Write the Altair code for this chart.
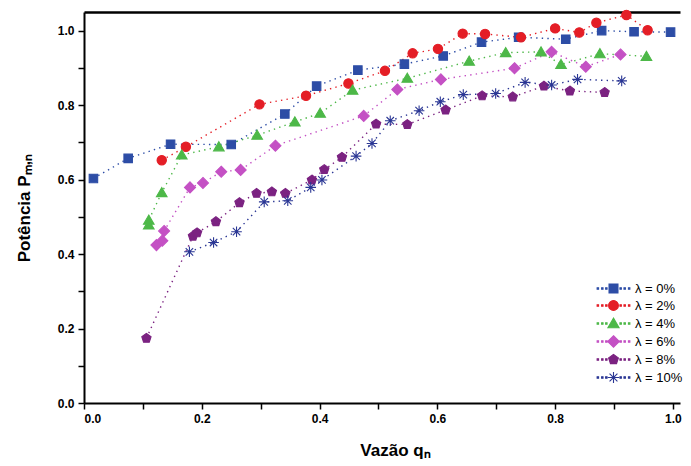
import altair as alt
import pandas as pd

labels = ["λ = 0%", "λ = 2%", "λ = 4%", "λ = 6%", "λ = 8%", "λ = 10%"]
colors = ["#2D4DA6", "#E41E26", "#4DB848", "#C451C4", "#7B2281", "#2A3694"]

q0 = [0.016, 0.075, 0.147, 0.250, 0.341, 0.395, 0.465, 0.544, 0.610, 0.675, 0.738, 0.818, 0.879, 0.934, 0.996]
p0 = [0.603, 0.657, 0.695, 0.694, 0.776, 0.851, 0.894, 0.910, 0.932, 0.969, 0.982, 0.977, 1.000, 0.997, 0.996]

q2 = [0.132, 0.173, 0.298, 0.377, 0.449, 0.511, 0.558, 0.601, 0.643, 0.681, 0.742, 0.800, 0.841, 0.870, 0.921, 0.957]
p2 = [0.652, 0.688, 0.802, 0.825, 0.858, 0.892, 0.939, 0.951, 0.992, 0.991, 0.982, 1.006, 0.995, 1.021, 1.042, 1.001]

q4 = [0.110, 0.110, 0.132, 0.166, 0.229, 0.294, 0.358, 0.401, 0.456, 0.549, 0.654, 0.716, 0.776, 0.810, 0.876, 0.955]
p4 = [0.478, 0.491, 0.565, 0.666, 0.688, 0.719, 0.755, 0.778, 0.840, 0.872, 0.918, 0.941, 0.943, 0.909, 0.938, 0.931]

q6 = [0.123, 0.133, 0.136, 0.180, 0.202, 0.233, 0.266, 0.325, 0.475, 0.532, 0.606, 0.731, 0.794, 0.852, 0.911]
p6 = [0.424, 0.436, 0.462, 0.579, 0.591, 0.621, 0.626, 0.691, 0.771, 0.842, 0.869, 0.899, 0.943, 0.903, 0.936]

q8 = [0.106, 0.185, 0.192, 0.224, 0.264, 0.293, 0.319, 0.342, 0.387, 0.408, 0.438, 0.496, 0.549, 0.614, 0.676, 0.728, 0.781, 0.825, 0.884]
p8 = [0.174, 0.448, 0.457, 0.487, 0.538, 0.563, 0.567, 0.563, 0.599, 0.627, 0.660, 0.749, 0.748, 0.787, 0.825, 0.822, 0.851, 0.838, 0.834]

q10 = [0.179, 0.220, 0.259, 0.306, 0.346, 0.385, 0.404, 0.462, 0.489, 0.520, 0.569, 0.605, 0.644, 0.699, 0.749, 0.794, 0.838, 0.913]
p10 = [0.406, 0.431, 0.460, 0.540, 0.543, 0.579, 0.599, 0.663, 0.697, 0.758, 0.785, 0.809, 0.828, 0.831, 0.861, 0.854, 0.869, 0.865]

tick_values = [0.0, 0.1, 0.2, 0.3, 0.4, 0.5, 0.6, 0.7, 0.8, 0.9, 1.0]

series_q = [q0, q2, q4, q6, q8, q10]
series_p = [p0, p2, p4, p6, p8, p10]
rows = []
for lab, qs, ps in zip(labels, series_q, series_p):
    for q, p in zip(qs, ps):
        rows.append({"series": lab, "q": q, "p": p})
df = pd.DataFrame(rows)

# marker shapes (unit box -1..1)
square = "M-1,-1H1V1H-1Z"
circle = "M1.1,0A1.1,1.1 0 1,1 -1.1,0A1.1,1.1 0 1,1 1.1,0Z"
triangle = "M0,-1.2L1.25,0.95L-1.25,0.95Z"
diamond = "M0,-1.3L1.3,0L0,1.3L-1.3,0Z"
pentagon = "M0,-1.15L1.094,-0.355L0.676,0.93L-0.676,0.93L-1.094,-0.355Z"
asterisk = "M-1.25,0H1.25M0,-1.25V1.25M-0.88,-0.88L0.88,0.88M-0.88,0.88L0.88,-0.88"
marker_paths = [square, circle, triangle, diamond, pentagon, asterisk]

dots = " ".join(
    f"M{c - 0.16:.2f},-0.16h0.32v0.32h-0.32Z" for c in [-3.5, -2.5, -1.6, 1.6, 2.5, 3.5]
)
legend_paths = [m + " " + dots for m in marker_paths]

FONT = "Liberation Sans"
label_expr = "round(datum.value*10) % 2 == 0 ? format(datum.value, '.1f') : ''"

x_scale = alt.Scale(domain=[0, 1.012], nice=False, zero=False)
y_scale = alt.Scale(domain=[0, 1.05], nice=False, zero=False)

x_axis = alt.Axis(
    values=tick_values, labelExpr=label_expr, grid=False,
    tickSize=6, tickWidth=1.5, tickColor="black", domainWidth=2, domainColor="black",
    labelFont=FONT, labelFontSize=12, labelFontWeight="bold", labelColor="black", labelPadding=4,
    title="Vazão qₙ", titleFont=FONT, titleFontSize=17, titleFontWeight="bold",
    titleColor="black", titlePadding=18, titleX=311,
)
y_axis = alt.Axis(
    values=tick_values, labelExpr=label_expr, grid=False,
    tickSize=6, tickWidth=1.5, tickColor="black", domainWidth=2, domainColor="black",
    labelFont=FONT, labelFontSize=12, labelFontWeight="bold", labelColor="black", labelPadding=4,
    title="Potência Pₘ,ₙ", titleFont=FONT, titleFontSize=17, titleFontWeight="bold",
    titleColor="black", titlePadding=24,
)
top_axis = alt.Axis(
    orient="top", labels=False, ticks=False, grid=False, title=None,
    domainWidth=2.5, domainColor="black", minExtent=0, maxExtent=0,
)

base = alt.Chart(df)

lines = base.mark_line(strokeDash=[1.4, 4.2], strokeWidth=1.4).encode(
    x=alt.X("q:Q", scale=x_scale, axis=x_axis),
    y=alt.Y("p:Q", scale=y_scale, axis=y_axis),
    color=alt.Color("series:N", scale=alt.Scale(domain=labels, range=colors), legend=None),
    order="q:Q",
)

points = base.mark_point(filled=True, size=72, strokeWidth=1.1, opacity=1).encode(
    x=alt.X("q:Q", scale=x_scale, axis=None),
    y=alt.Y("p:Q", scale=y_scale, axis=y_axis),
    shape=alt.Shape("series:N", scale=alt.Scale(domain=labels, range=marker_paths), legend=None),
    fill=alt.Fill("series:N", scale=alt.Scale(domain=labels, range=colors), legend=None),
    stroke=alt.Stroke("series:N", scale=alt.Scale(domain=labels, range=colors), legend=None),
)

legend = alt.Legend(
    title=None, orient="none", legendX=523, legendY=270, padding=0,
    symbolSize=80, symbolStrokeWidth=1.1, rowPadding=2, labelOffset=15,
    labelFont=FONT, labelFontSize=13, labelColor="black",
)

legend_layer = base.transform_filter("false").mark_point(filled=True, size=80, strokeWidth=1.1, opacity=1).encode(
    x=alt.X("q:Q", scale=x_scale, axis=top_axis),
    y=alt.Y("p:Q", scale=y_scale, axis=y_axis),
    shape=alt.Shape("series:N", scale=alt.Scale(domain=labels, range=legend_paths), legend=legend),
    fill=alt.Fill("series:N", scale=alt.Scale(domain=labels, range=colors), legend=legend),
    stroke=alt.Stroke("series:N", scale=alt.Scale(domain=labels, range=colors), legend=legend),
)

chart = alt.layer(lines, points, legend_layer).resolve_scale(
    shape="independent", fill="independent", stroke="independent", color="independent"
).resolve_axis(x="independent").properties(
    width=596, height=391,
    padding={"left": 7, "top": 0, "right": 0, "bottom": 2},
).configure_view(stroke=None)

chart.save("out.html", embed_options={"renderer": "svg", "actions": False})
